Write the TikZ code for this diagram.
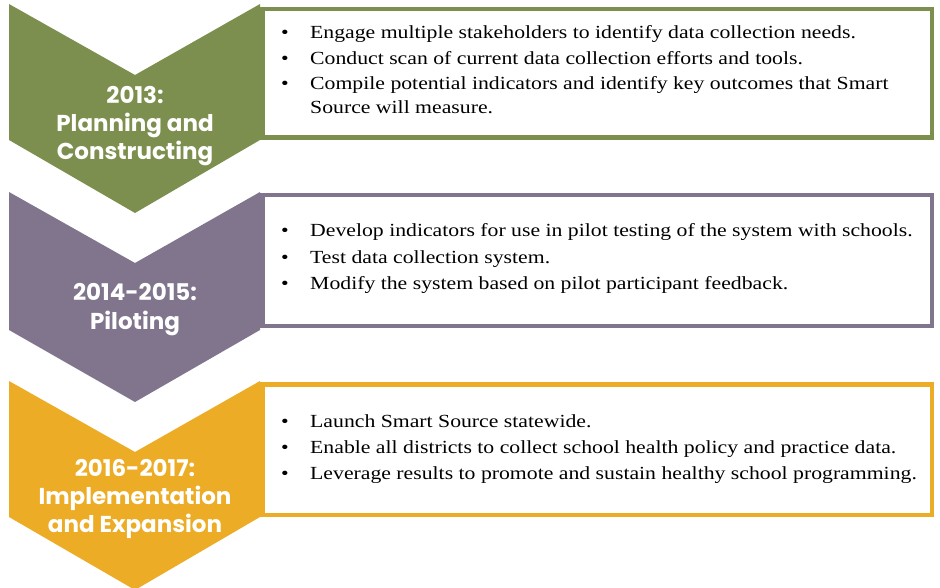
\documentclass[tikz,border=0pt]{standalone}
\usepackage{fontspec}
\newfontfamily\boxfont{Liberation Serif}[FakeStretch=1.175]
\newfontfamily\chevfont{Poppins}
\definecolor{cgreen}{RGB}{125,143,79}
\definecolor{cpurple}{RGB}{128,117,141}
\definecolor{cgold}{RGB}{236,172,37}
\tikzset{
  chev/.style={fill=#1, draw=none},
  phasebox/.style={draw=#1, line width=4.5pt, fill=white},
  itemtxt/.style={anchor=base west, inner sep=0pt, font=\boxfont\fontsize{18.5}{24}\selectfont},
  bul/.style={anchor=base, inner sep=0pt, font=\boxfont\fontsize{18.5}{24}\selectfont},
  lab/.style={anchor=base, text=white, inner sep=0pt, font=\chevfont\bfseries\fontsize{23}{28}\selectfont}
}
\begin{document}
\begin{tikzpicture}[x=1pt,y=-1pt]
\useasboundingbox (0,0) rectangle (940,588);
% chevrons
\fill[chev=cgreen] (9,4) -- (135,75) -- (260,4) -- (260,140) -- (135,213) -- (9,140) -- cycle;
\fill[chev=cpurple] (9,192) -- (135,263) -- (260,192) -- (260,330) -- (135,402) -- (9,330) -- cycle;
\fill[chev=cgold] (9,381) -- (135,452) -- (260,381) -- (260,517) -- (135,590) -- (9,517) -- cycle;
% boxes
\draw[phasebox=cgreen] (262.25,9.25) rectangle (931.75,137.75);
\draw[phasebox=cpurple] (262.25,195.25) rectangle (931.75,325.75);
\draw[phasebox=cgold] (262.25,384.25) rectangle (931.75,514.75);
% labels
\node[lab] (l1a) at (135,104) {2013:};
\node[lab] (l1b) at (135,132) {Planning and};
\node[lab] (l1c) at (135,160) {Constructing};
\node[lab] (l2a) at (135,301) {2014-2015:};
\node[lab] (l2b) at (135,329) {Piloting};
\node[lab] (l3a) at (135,476) {2016-2017:};
\node[lab] (l3b) at (135,504) {Implementation};
\node[lab] (l3c) at (135,532) {and Expansion};
% box 1 text
\node[bul] (b11) at (285,39) {\textbullet};
\node[itemtxt] (t11) at (310,39) {Engage multiple stakeholders to identify data collection needs.};
\node[bul] (b12) at (285,65) {\textbullet};
\node[itemtxt] (t12) at (310,65) {Conduct scan of current data collection efforts and tools.};
\node[bul] (b13) at (285,90) {\textbullet};
\node[itemtxt] (t13) at (310,90) {Compile potential indicators and identify key outcomes that Smart};
\node[itemtxt] (t13b) at (310,114) {Source will measure.};
% box 2 text
\node[bul] (b21) at (285,237) {\textbullet};
\node[itemtxt] (t21) at (310,237) {Develop indicators for use in pilot testing of the system with schools.};
\node[bul] (b22) at (285,263) {\textbullet};
\node[itemtxt] (t22) at (310,263) {Test data collection system.};
\node[bul] (b23) at (285,289) {\textbullet};
\node[itemtxt] (t23) at (310,289) {Modify the system based on pilot participant feedback.};
% box 3 text
\node[bul] (b31) at (285,427) {\textbullet};
\node[itemtxt] (t31) at (310,427) {Launch Smart Source statewide.};
\node[bul] (b32) at (285,453) {\textbullet};
\node[itemtxt] (t32) at (310,453) {Enable all districts to collect school health policy and practice data.};
\node[bul] (b33) at (285,479) {\textbullet};
\node[itemtxt] (t33) at (310,479) {Leverage results to promote and sustain healthy school programming.};
\end{tikzpicture}
\end{document}
